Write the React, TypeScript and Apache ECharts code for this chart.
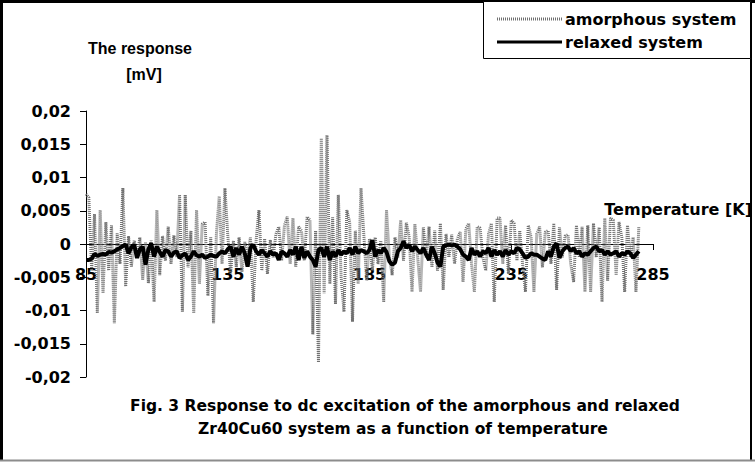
import React, { useEffect, useRef } from "react";
import * as echarts from "echarts";

// Temperature of the first sample [K]; one sample per kelvin
const startTemperature = 85;
// x axis ticks: 85, 135, 185, 235, 285
const xMin = 85;
const xMax = 285;
const xStep = 50;
// y axis ticks: -0,02 ... 0,02
const yMin = -0.02;
const yMax = 0.02;
const yStep = 0.005;

// amorphous system response [mV], T = 85..280 K
const amorphous = [
  // 85-126
  0.0075, 0.007, -0.004, 0.0045, -0.0104, 0.0051, -0.0074, 0.0033, -0.004, 0.0028,
  -0.0119, 0.0016, -0.003, 0.0084, -0.0064, 0.0012, -0.0034, 0.0005, -0.002, 0.001,
  -0.0054, 0.0003, -0.0059, 0.0005, -0.0087, 0.0051, -0.0047, 0.0012, -0.0025, 0.0026,
  -0.003, 0.0013, -0.002, 0.0074, -0.0102, 0.0074, -0.0035, 0.002, -0.0104, 0.0051,
  -0.006, 0.003,
  // 127-165
  0.0033, -0.0078, 0.001, -0.0119, 0.0015, 0.0072, -0.003, 0.0084, 0.0014, -0.0044,
  0.0005, -0.0035, 0.001, -0.0042, 0.0003, -0.002, 0.001, -0.0087, 0.0005, 0.0051,
  -0.004, 0.0008, -0.0045, 0.0006, -0.002, 0.0015, 0.0026, -0.0025, 0.0028, 0.0041,
  -0.003, 0.0039, -0.0034, 0.0026, 0.002, -0.0025, 0.0041, 0.0036, -0.0136,
  // 166-204
  0.002, -0.0178, 0.0159, -0.0074, 0.0164, -0.006, 0.004, -0.009, 0.0074, -0.005,
  -0.0102, 0.0051, 0.0033, -0.0117, 0.002, -0.006, 0.0084, 0.0014, -0.0055, 0.0008,
  -0.004, 0.001, -0.003, 0.0005, -0.0087, 0.0051, -0.002, -0.0047, 0.001, -0.002,
  0.0036, -0.0025, 0.0032, 0.001, -0.0072, 0.003, -0.002, -0.0072, 0.0025,
  // 205-243
  -0.002, 0.0026, -0.0035, 0.002, -0.004, 0.0031, -0.0069, 0.0015, -0.002, 0.0014,
  -0.003, 0.0008, 0.0018, -0.0057, 0.0023, 0.0031, -0.003, -0.0072, 0.0026, 0.0024,
  -0.002, -0.004, 0.0015, 0.0031, -0.0087, 0.0039, 0.0039, -0.003, 0.0028, -0.0045,
  0.0036, 0.0031, -0.0025, 0.002, -0.003, -0.0072, 0.0028, 0.001, -0.0072,
  // 244-280
  0.0015, 0.0026, -0.0035, 0.0018, 0.002, -0.003, 0.0031, -0.0069, 0.0025, -0.002,
  0.0012, 0.0014, -0.003, -0.0057, 0.0028, -0.002, 0.0026, -0.0072, 0.0028, -0.0072,
  0.0031, -0.002, 0.0025, -0.0087, 0.0039, -0.0055, 0.0039, 0.0036, -0.0047, 0.0033,
  0.001, -0.0072, 0.0028, -0.002, 0.001, -0.0072, 0.0026,
];

// relaxed system response [mV], T = 85..280 K
const relaxed = [
  // 85-125
  -0.0024, -0.0024, -0.0022, -0.0015, -0.0018, -0.0016, -0.0015, -0.0016, -0.0012, -0.0013,
  -0.0011, -0.0008, -0.0006, -0.0003, -0.0001, -0.0014, -0.0005, -0.0001, -0.0021, -0.0008,
  -0.0004, -0.0031, -0.0008, 0.0001, -0.0019, -0.0004, -0.0012, -0.0019, -0.0009, -0.0011,
  -0.0019, -0.0013, -0.0011, -0.0021, -0.0017, -0.0014, -0.0024, -0.0019, -0.0011, -0.0017,
  -0.0019,
  // 126-164
  -0.0016, -0.0021, -0.0019, -0.0016, -0.0018, -0.0019, -0.0014, -0.0011, -0.0014, -0.0008,
  -0.0004, -0.0019, -0.0006, -0.0016, -0.0004, -0.0014, -0.0034, -0.0006, -0.0001, -0.0011,
  -0.0016, -0.0009, -0.0014, -0.0019, -0.0011, -0.0016, -0.0014, -0.0024, -0.0011, -0.0014,
  -0.0019, -0.0009, -0.0016, -0.0004, -0.0024, -0.0004, -0.0021, -0.0011, -0.0019,
  // 165-204
  -0.0024, -0.0034, -0.0009, -0.0006, -0.0019, -0.0004, -0.0024, -0.0011, -0.0019, -0.0009,
  -0.0016, -0.0011, -0.0014, -0.0006, -0.0016, -0.0004, -0.0014, -0.0009, -0.0011, -0.0014,
  -0.0009, 0.0006, -0.0019, -0.0009, -0.0014, -0.0006, -0.0012, -0.0026, -0.0031, -0.0028,
  -0.0011, -0.0006, 0.0004, -0.0006, -0.0001, -0.0011, -0.0004, -0.0009, -0.0014, -0.0006,
  // 205-243
  -0.0016, -0.0024, -0.0004, -0.0014, -0.0028, -0.0034, -0.0004, -0.0002, -0.0001, -0.0002,
  -0.0001, -0.0004, -0.0008, -0.0016, -0.0019, -0.0024, -0.0006, -0.0016, -0.0011, -0.0019,
  -0.0011, -0.0014, -0.0006, -0.0019, -0.0009, -0.0016, -0.0011, -0.0019, -0.0009, -0.0016,
  -0.0011, -0.0014, -0.0006, -0.0008, -0.0014, -0.0021, -0.0019, -0.0014, -0.0016,
  // 244-280
  -0.0016, -0.0019, -0.0022, -0.0024, -0.0011, -0.0019, -0.0004, 0.0001, -0.0021, -0.0011,
  -0.0006, -0.0004, -0.0011, -0.0006, -0.0014, -0.0011, -0.0019, -0.0014, -0.0016, -0.0011,
  -0.0006, -0.0004, -0.0011, -0.0009, -0.0016, -0.0011, -0.0016, -0.0014, -0.0011, -0.0019,
  -0.0014, -0.0016, -0.0011, -0.0014, -0.0021, -0.0016, -0.0011,
];

const seriesNames = ["amorphous system", "relaxed system"];
const yTitle = ["The response", "[mV]"];
const xTitle = "Temperature [K]";
const caption = [
  "Fig. 3 Response to dc excitation of the amorphous and relaxed",
  "Zr40Cu60 system as a function of temperature",
];

const FONT = "DejaVu Sans";
const FONT2 = "Liberation Sans";
const GRAY = "#707070";

const GRID_TOP = 111;
const GRID_BOTTOM = 87;
const GRID_HEIGHT = 464 - GRID_TOP - GRID_BOTTOM;

export default function App() {
  const ref = useRef<HTMLDivElement>(null);
  useEffect(() => {
    document.body.style.margin = "0";
    const chart = echarts.init(ref.current!, null, { renderer: "svg" });
    const toPairs = (arr: number[]) => arr.map((v, i) => [startTemperature + i, v]);
    const labelStyle = {
      fontFamily: FONT,
      fontWeight: "bold",
      fontSize: 16,
      color: "#000",
    };
    const txt = (
      x: number,
      y: number,
      text: string,
      size: number,
      align: string,
      family: string = FONT
    ) => ({
      type: "text",
      x,
      y,
      style: {
        text,
        fontFamily: family,
        fontWeight: "bold",
        fontSize: size,
        fill: "#000",
        verticalAlign: "middle",
        align,
      },
    });
    // position of y = 0 inside the grid, so the x axis (and its labels) sit on zero
    const zeroOffset = -GRID_HEIGHT * ((0 - yMin) / (yMax - yMin));
    chart.setOption({
      animation: false,
      backgroundColor: "#fff",
      grid: { left: 86, right: 102, top: GRID_TOP, bottom: GRID_BOTTOM, containLabel: false, outerBoundsMode: "none" },
      xAxis: {
        type: "value",
        min: xMin,
        max: xMax,
        interval: xStep,
        position: "bottom",
        offset: zeroOffset,
        axisLine: { show: true, onZero: false, lineStyle: { color: "#000", width: 1 } },
        axisTick: { show: true, length: 6, inside: false, lineStyle: { color: "#000", width: 1 } },
        axisLabel: { ...labelStyle, margin: 22 },
        splitLine: { show: false },
      },
      yAxis: {
        type: "value",
        min: yMin,
        max: yMax,
        interval: yStep,
        axisLine: { show: true, onZero: false, lineStyle: { color: "#000", width: 1 } },
        axisTick: { show: true, length: 6, inside: false, lineStyle: { color: "#000", width: 1 } },
        axisLabel: {
          ...labelStyle,
          margin: 15,
          formatter: (v: number) => String(Number(v.toFixed(4))).replace(".", ","),
        },
        splitLine: { show: false },
      },
      series: [
        {
          name: seriesNames[0],
          type: "line",
          data: toPairs(amorphous),
          showSymbol: false,
          symbol: "none",
          lineStyle: { color: GRAY, width: 3, type: [1, 1] },
          z: 2,
        },
        {
          name: seriesNames[1],
          type: "line",
          data: toPairs(relaxed),
          showSymbol: false,
          symbol: "none",
          lineStyle: { color: "#000", width: 4 },
          z: 3,
        },
      ],
      graphic: [
        // frame
        { type: "line", shape: { x1: 1.5, y1: 0, x2: 1.5, y2: 461 }, style: { stroke: "#000", lineWidth: 3 } },
        { type: "line", shape: { x1: 0, y1: 1.5, x2: 755, y2: 1.5 }, style: { stroke: "#000", lineWidth: 3 } },
        { type: "line", shape: { x1: 751, y1: 0, x2: 751, y2: 461 }, style: { stroke: "#000", lineWidth: 2 } },
        { type: "line", shape: { x1: 0, y1: 460.5, x2: 755, y2: 460.5 }, style: { stroke: "#8c8c8c", lineWidth: 2 } },
        // legend box
        { type: "rect", shape: { x: 483.5, y: 1.5, width: 267, height: 57 }, style: { fill: "#fff", stroke: "#000", lineWidth: 1 } },
        { type: "line", shape: { x1: 497, y1: 19, x2: 562, y2: 19 }, style: { stroke: GRAY, lineWidth: 3, lineDash: [1, 1] } },
        txt(565, 19, seriesNames[0], 16, "left"),
        { type: "line", shape: { x1: 497, y1: 42, x2: 562, y2: 42 }, style: { stroke: "#000", lineWidth: 3 } },
        txt(565, 42, seriesNames[1], 16, "left"),
        // titles
        txt(140, 48, yTitle[0], 16, "center", FONT2),
        txt(144, 74, yTitle[1], 16, "center", FONT2),
        txt(752, 209, xTitle, 16, "right"),
        txt(405, 406, caption[0], 15.5, "center"),
        txt(403, 429, caption[1], 15.5, "center"),
      ],
    });
    return () => chart.dispose();
  }, []);
  return <div ref={ref} style={{ width: 755, height: 464 }} />;
}
